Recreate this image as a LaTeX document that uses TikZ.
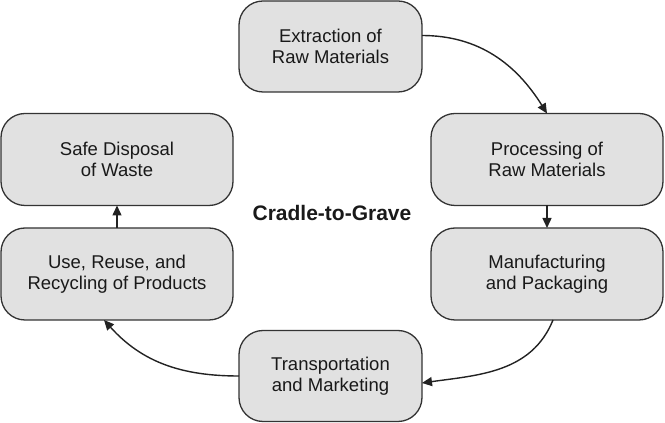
\documentclass[tikz,border=0pt]{standalone}
\usepackage{fontspec}
\setmainfont{Liberation Sans}
\usetikzlibrary{arrows.meta}
\definecolor{boxfill}{HTML}{E1E1E1}
\definecolor{boxline}{HTML}{333333}
\definecolor{arr}{HTML}{222222}
\begin{document}
\begin{tikzpicture}[x=1pt,y=1pt,
  stage/.style={draw=boxline, line width=1.3pt, fill=boxfill, rounded corners=24pt,
    align=center, inner sep=0pt, outer sep=0pt,
    font=\fontsize{18.5}{21.5}\selectfont, text=black!90},
  wide/.style={minimum width=232pt, minimum height=92pt},
  narrow/.style={minimum width=183pt, minimum height=91pt},
  flow/.style={draw=arr, line width=1.4pt, -{Triangle[length=10pt,width=9pt]}}]
\useasboundingbox (0,0) rectangle (665,423);
\node[stage,narrow] (ext) at (330.5,376.5) {Extraction of\\Raw Materials};
\node[stage,wide] (proc) at (547,263.5) {Processing of\\Raw Materials};
\node[stage,wide] (manu) at (547,149) {Manufacturing\\and Packaging};
\node[stage,narrow] (trans) at (330.5,47) {Transportation\\and Marketing};
\node[stage,wide] (use) at (117,149) {Use, Reuse, and\\Recycling of Products};
\node[stage,wide] (safe) at (117,263.5) {Safe Disposal\\of Waste};
\node[font=\bfseries\fontsize{21}{25}\selectfont, text=black!90] (title) at (332,210) {Cradle-to-Grave};
\draw[flow] ([yshift=11pt]ext.east) to[out=0,in=122] (proc.north);
\draw[flow] (proc.south) -- (manu.north);
\draw[flow] ([xshift=6pt]manu.south) to[out=-112,in=8] ([yshift=-7pt]trans.east);
\draw[flow] (trans.west) to[out=180,in=-48] ([xshift=-13pt]use.south);
\draw[flow] (use.north) -- (safe.south);
\end{tikzpicture}
\end{document}
